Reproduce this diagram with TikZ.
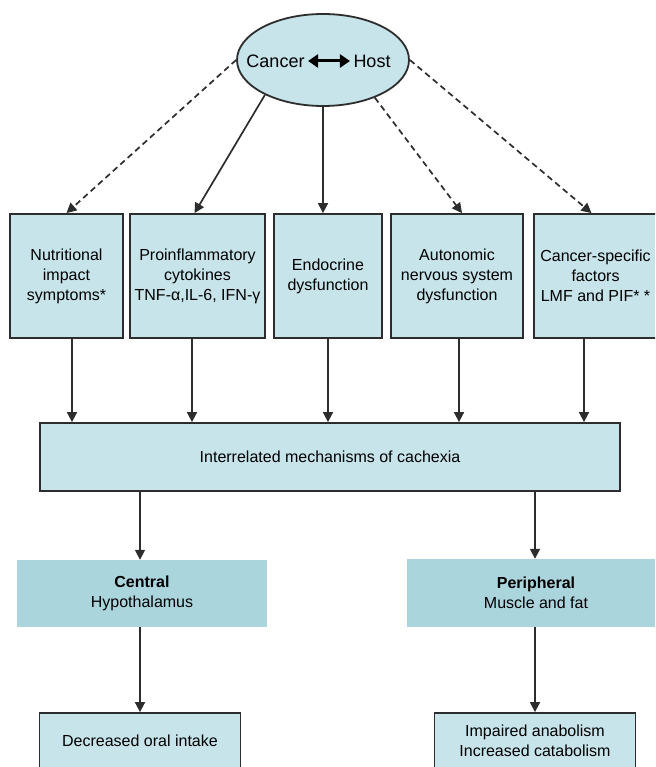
\documentclass[tikz,border=0pt]{standalone}
\usepackage{fontspec}
\setmainfont{Liberation Sans}
\usepackage{tikz}
\usetikzlibrary{arrows.meta,shapes.geometric}
\definecolor{boxfill}{RGB}{198,228,233}
\definecolor{darkfill}{RGB}{170,213,221}
\definecolor{edge}{RGB}{45,45,45}

\begin{document}
\begin{tikzpicture}[x=1pt,y=-1pt,
  font=\fontsize{16}{20}\selectfont,
  box/.style={draw=edge,line width=1.8pt,fill=boxfill,inner sep=0pt,align=center},
  plainbox/.style={fill=darkfill,inner sep=0pt,align=center},
  arr/.style={draw=edge,line width=1.7pt,-{Triangle[length=10pt,width=10pt]}},
  dasharr/.style={arr,dash pattern=on 6pt off 4pt}]
\useasboundingbox (0,0) rectangle (655,767);
\clip (0,0) rectangle (655,767);

% cancer and host
\node[ellipse,draw=edge,line width=1.8pt,fill=boxfill,minimum width=172,minimum height=92,inner sep=0pt] (ch) at (323,60) {};
\node[font=\fontsize{18}{20}\selectfont] (cancer) at (275.5,61) {Cancer};
\node[font=\fontsize{18}{20}\selectfont] (host) at (372,61) {Host};
\draw[black,line width=3pt,{Triangle[length=10pt,width=13pt]}-{Triangle[length=10pt,width=13pt]}] (cancer) -- (host);

% five mechanisms
\node[box,minimum width=113,minimum height=124] (nutr) at (66.5,276) {Nutritional\\impact\\symptoms*};
\node[box,minimum width=135,minimum height=124] (cyto) at (197.5,276) {Proinflammatory\\cytokines\\TNF-α,IL-6, IFN-γ};
\node[box,minimum width=108,minimum height=124] (endo) at (328,276) {Endocrine\\dysfunction};
\node[box,minimum width=132,minimum height=124] (auto) at (457,276) {Autonomic\\nervous system\\dysfunction};
\node[box,minimum width=123,minimum height=124] (canc) at (595.5,276) {Cancer-specific\\factors\\LMF and PIF* *};

\draw[dasharr] (ch.west) -- (nutr.north);
\draw[arr] (ch.211) -- ([xshift=-3pt]cyto.north);
\draw[arr] (ch.south) -- (ch.south |- endo.north);
\draw[dasharr] (ch.324) -- ([xshift=5pt]auto.north);
\draw[dasharr] (ch.east) -- ([xshift=-4pt]canc.north);

% cachexia
\node[box,minimum width=580,minimum height=68] (mech) at (330,457) {Interrelated mechanisms of cachexia};

\foreach \b/\x in {nutr/72,cyto/192,endo/328,auto/459,canc/584}
  \draw[arr] (\b.south -| \x,0) -- (mech.north -| \x,0);

% central and peripheral
\node[plainbox,minimum width=250,minimum height=67] (central) at (142,593.5) {\textbf{Central}\\Hypothalamus};
\node[plainbox,minimum width=258,minimum height=68] (periph) at (536,593) {\textbf{Peripheral}\\Muscle and fat};

\draw[arr] (mech.south -| 140,0) -- (central.north -| 140,0);
\draw[arr] (mech.south -| 535,0) -- (periph.north -| 535,0);

\node[box,minimum width=201,minimum height=56] (intake) at (140,741) {Decreased oral intake};
\node[box,minimum width=201,minimum height=56] (catab) at (535,741) {Impaired anabolism\\Increased catabolism};

\draw[arr] (central.south -| intake) -- (intake);
\draw[arr] (periph.south -| catab) -- (catab);

\end{tikzpicture}
\end{document}
